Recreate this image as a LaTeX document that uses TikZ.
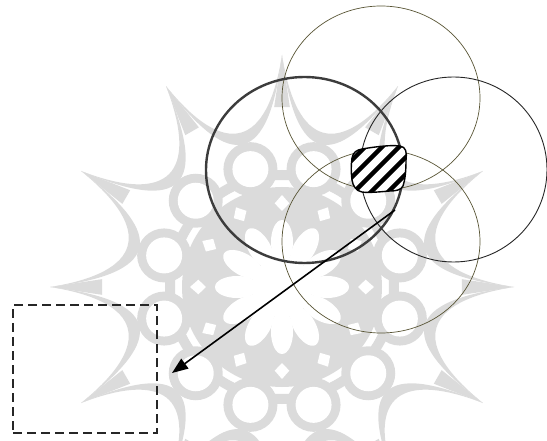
\documentclass[tikz,border=0pt]{standalone}
\usetikzlibrary{shapes.geometric,arrows.meta,calc}
\definecolor{wmgray}{RGB}{219,219,219}
\definecolor{ringolive}{RGB}{88,84,52}
\definecolor{ringdark}{RGB}{60,60,60}
\begin{document}
\begin{tikzpicture}[x=1pt,y=-1pt,
  ringthin/.style={ellipse, draw=ringolive, line width=0.7pt, inner sep=0pt, outer sep=0pt},
  ringblack/.style={ellipse, draw=black!85, line width=0.9pt, inner sep=0pt, outer sep=0pt},
  ringthick/.style={ellipse, draw=ringdark, line width=2.4pt, inner sep=0pt, outer sep=0pt},
  dashbox/.style={rectangle, draw=black!85, line width=2pt, dash pattern=on 9pt off 5pt, inner sep=0pt, outer sep=0pt},
  stripe/.style={line width=4.5pt, black},
  blobline/.style={draw=black, line width=1.4pt},
  pointer/.style={draw=black, line width=1.6pt, -{Triangle[length=16pt,width=12pt]}}
]
\useasboundingbox (0,0) rectangle (547,441);
% ---- watermark ----
\begin{scope}[shift={(282,287)}]
  \fill[wmgray] (0,0) circle[radius=100pt];
  \draw[wmgray, line width=10pt] (0,0) circle[radius=112pt];
  \foreach \k in {0,...,11}{
    \pgfmathsetmacro\a{30*\k}
    \fill[wmgray] (\a:232) .. controls ({\a+6}:140) and ({\a+24}:140) .. ({\a+30}:232)
       .. controls ({\a+24}:124) and ({\a+6}:124) .. (\a:232) -- cycle;
    \fill[wmgray] (\a:232) -- ({\a+2.5}:180) -- ({\a-2.5}:180) -- cycle;
    \fill[wmgray] ({\a+15}:122) circle[radius=27pt];
    \fill[white] ({\a+15}:122) circle[radius=18pt];
    \fill[white] (\a:76) -- ({\a+5}:84) -- (\a:92) -- ({\a-5}:84) -- cycle;
    \fill[white, rotate=\a] (45,0) ellipse[x radius=22pt, y radius=11pt];
  }
  \fill[white] (0,0) circle[radius=30pt];
\end{scope}
% ---- rings ----
\node[ringthin, minimum width=198pt, minimum height=184pt] (topring) at (381,98) {};
\node[ringthin, minimum width=198pt, minimum height=183pt] (bottomring) at (381,241.5) {};
\node[ringblack, minimum width=187pt, minimum height=185pt] (rightring) at (453.5,169.5) {};
\node[ringthick, minimum width=197pt, minimum height=186pt] (leftring) at (304.5,170) {};
% ---- hatched region ----
\def\blobpath{(362,149) .. controls (380,146) and (392,145) .. (400,146)
  .. controls (406,147) and (407,152) .. (406,160)
  .. controls (406,172) and (405,180) .. (403,186)
  .. controls (401,190) and (396,191) .. (390,191)
  .. controls (378,192) and (368,193) .. (362,192)
  .. controls (356,191) and (353,186) .. (352,180)
  .. controls (351,172) and (351,165) .. (352,158)
  .. controls (353,152) and (357,150) .. (362,149) -- cycle}
\fill[white] \blobpath;
\begin{scope}
  \clip \blobpath;
  \foreach \c in {512,529,...,600}{
    \draw[stripe] ({\c-215},215) -- ({\c-125},125);
  }
\end{scope}
\draw[blobline] \blobpath;
% ---- target box and pointer ----
\node[dashbox, minimum width=144pt, minimum height=128pt] (target) at (85,369) {};
\coordinate (pstart) at (395,210);
\coordinate (pend) at (172,373);
\draw[pointer] (pstart) -- (pend);
\end{tikzpicture}
\end{document}
